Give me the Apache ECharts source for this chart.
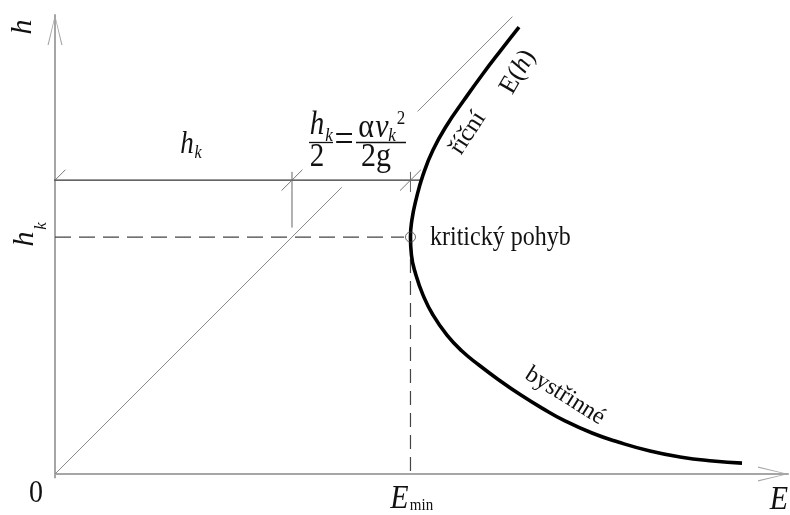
<!DOCTYPE html>
<html><head><meta charset="utf-8">
<script src="https://cdn.jsdelivr.net/npm/echarts@6/dist/echarts.min.js"></script>
<style>html,body{margin:0;padding:0;background:#fff}#c{width:790px;height:515px}</style>
</head><body><div id="c"></div>
<script>
// ---- data (units: h_k = 1) ----
const hk = 1.0;
const Emin = 1.5;
const curveE = [1.958,1.882,1.802,1.726,1.654,1.595,1.553,1.523,1.506,1.500,1.504,1.523,1.553,1.595,1.654,1.717,1.789,1.873,1.966,2.055,2.152,2.266,2.376,2.511,2.637,2.776,2.899];
const curveH = [1.886,1.789,1.684,1.578,1.473,1.367,1.262,1.156,1.072,1.000,0.924,0.840,0.755,0.671,0.586,0.519,0.460,0.397,0.333,0.278,0.224,0.173,0.135,0.097,0.072,0.055,0.046];
const diagLower = [0, 1.21];     // E = h segment
const diagUpper = [1.53, 1.93];  // E = h segment
const dimLevel = 1.24;
const dimStart = -0.05;
const dimEnd = 1.548;
const dimTicks = [0, hk, Emin];
const dimTickTop = 1.275;
const dimTickBottom = [null, 1.04, 1.19];
const dashEnd = 1.473;
const xTickValues = [0, Emin];
const xTickLabels = ['0', 'E_min'];
const yTickValues = [hk];
const yTickLabels = ['h_k'];
const xMax = 3.093, yMax = 1.937;

const serif = '"Liberation Serif","DejaVu Serif",serif';
const chevron = 'path://M7.5,0 L15,30 L13.8,30 L7.5,2.5 L1.2,30 L0,30 Z';

function seg(pts, color, width, type) {
  return { type: 'line', data: pts, showSymbol: false, symbol: 'none', clip: false, silent: true,
    lineStyle: { color: color, width: width, type: type || 'solid', cap: 'butt' }, z: 2 };
}
const series = [];
series.push(seg([[diagLower[0], diagLower[0]], [diagLower[1], diagLower[1]]], '#8a8a8a', 1));
series.push(seg([[diagUpper[0], diagUpper[0]], [diagUpper[1], diagUpper[1]]], '#8a8a8a', 1));
series.push(seg([[dimStart, dimLevel], [dimEnd, dimLevel]], '#333', 1.3));
dimTicks.forEach((e, i) => {
  const d = 0.044;
  series.push(seg([[e - d, dimLevel - d], [e + d, dimLevel + d]], '#777', 1));
  if (dimTickBottom[i] != null) series.push(seg([[e, dimTickTop], [e, dimTickBottom[i]]], '#666', 1));
});
series.push(seg([[0, hk], [dashEnd, hk]], '#444', 1.2, [16, 8]));
series.push(seg([[Emin, hk], [Emin, 0]], '#444', 1.2, [14, 8]));
series.push(seg([[-0.035, 0], [0, 0]], '#a6a6a6', 2));
series.push(seg([[0, 0], [0, -0.018]], '#a6a6a6', 2));
series.push({ type: 'line', data: curveE.map((e, i) => [e, curveH[i]]), smooth: 0.5, showSymbol: false, symbol: 'none',
  clip: false, silent: true, lineStyle: { color: '#000', width: 3.6, join: 'round' }, z: 3 });
series.push({ type: 'scatter', data: [[Emin, hk]], symbol: 'circle', symbolSize: 10, silent: true,
  itemStyle: { color: 'rgba(0,0,0,0)', borderColor: '#444', borderWidth: 1 }, z: 5 });

const axisCommon = {
  type: 'value', splitLine: { show: false }, axisTick: { show: false }, axisLabel: { show: false },
  axisLine: { show: true, symbol: ['none', chevron], symbolSize: [15, 30], symbolOffset: [0, -15],
    lineStyle: { color: '#a6a6a6', width: 2 } }
};
const chart = echarts.init(document.getElementById('c'), null, { renderer: 'canvas' });
chart.setOption({
  animation: false,
  backgroundColor: '#fff',
  grid: { left: 55, right: 2, top: 15, bottom: 41, containLabel: false },
  xAxis: Object.assign({}, axisCommon, { min: 0, max: xMax }),
  yAxis: Object.assign({}, axisCommon, { min: 0, max: yMax }),
  series: series
});

// ---- text annotations ----
const SY = 1.14;
function T(x, y, s, size, opt) {
  opt = opt || {};
  return { type: 'text', x: x, y: y, rotation: opt.rot || 0, scaleY: opt.sy || 1, z: 10, silent: true,
    style: { text: s, fill: '#111', font: (opt.it ? 'italic ' : '') + size + 'px ' + serif,
      align: opt.align || 'center', verticalAlign: 'middle' } };
}
function L(x1, y1, x2, y2) {
  return { type: 'line', shape: { x1: x1, y1: y1, x2: x2, y2: y2 }, style: { stroke: '#111', lineWidth: 1.3 }, z: 10, silent: true };
}
const px = (e, h) => chart.convertToPixel({ gridIndex: 0 }, [e, h]);
const g = [];
const R90 = Math.PI / 2;
// axis names
g.push(T(23, 27, 'h', 30, { it: true, rot: R90 }));
const pEnd = px(xMax, 0);
g.push(T(pEnd[0] - 9, pEnd[1] + 26, 'E', 30, { it: true, sy: SY }));
// x tick labels
const p0 = px(xTickValues[0], 0);
g.push(T(p0[0] - 19, p0[1] + 20, xTickLabels[0], 28, { sy: SY }));
const pE = px(xTickValues[1], 0);
const parts = xTickLabels[1].split('_');
g.push(T(pE[0] - 11, pE[1] + 25, parts[0], 30, { it: true, sy: SY }));
g.push(T(pE[0] + 11, pE[1] + 32, parts[1], 15, { sy: SY }));
// y tick label
const pH = px(0, yTickValues[0]);
const yp = yTickLabels[0].split('_');
g.push(T(pH[0] - 30, pH[1] + 2, yp[0], 30, { it: true, rot: R90 }));
g.push(T(pH[0] - 13, pH[1] - 11, yp[1], 17, { it: true, rot: R90 }));
// dimension label h_k
g.push(T(187, 145, 'h', 27, { it: true, sy: SY }));
g.push(T(198, 153, 'k', 16, { it: true, sy: SY }));
// formula  h_k/2 = alpha v_k^2 / 2g
g.push(T(317, 125, 'h', 29, { it: true, sy: SY }));
g.push(T(329, 136, 'k', 17, { it: true, sy: SY }));
g.push(L(309, 142.5, 333, 142.5));
g.push(T(317, 157, '2', 29, { sy: SY }));
g.push(T(344, 141, '=', 34, { sy: SY }));
g.push(T(366, 128, 'α', 30, { sy: SY }));
g.push(T(382, 128, 'v', 30, { it: true, sy: SY }));
g.push(T(392, 136, 'k', 17, { it: true, sy: SY }));
g.push(T(401, 119, '2', 17, { sy: SY }));
g.push(L(356, 142.5, 406, 142.5));
g.push(T(376, 157, '2g', 30, { sy: SY }));
// curve labels
g.push(T(430, 238, 'kritický pohyb', 24, { align: 'left', sy: SY }));
g.push(T(468, 133, 'říční', 25, { rot: 57 * Math.PI / 180 }));
g.push({ type: 'text', x: 518, y: 72, rotation: 60 * Math.PI / 180, z: 10, silent: true,
  style: { text: '{a|E(}{b|h}{a|)}', align: 'center', verticalAlign: 'middle',
    rich: { a: { font: '26px ' + serif, fill: '#111' }, b: { font: 'italic 26px ' + serif, fill: '#111' } } } });
g.push(T(565, 396, 'bystřinné', 24, { rot: -32 * Math.PI / 180 }));
chart.setOption({ graphic: g });
</script>
</body></html>
